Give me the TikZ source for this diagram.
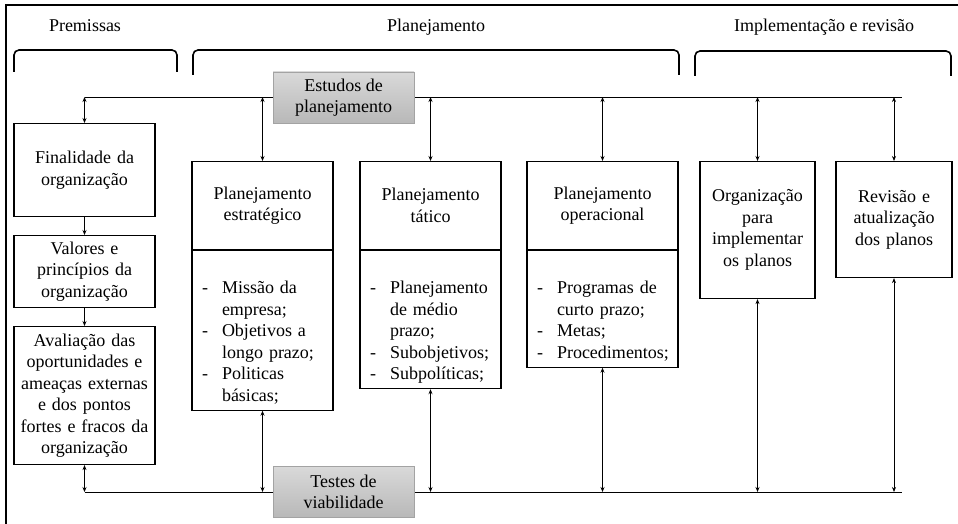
\documentclass[tikz,border=0pt]{standalone}
\usepackage{fontspec}
\setmainfont{Liberation Serif}
\usetikzlibrary{arrows.meta,positioning}
\definecolor{graytop}{HTML}{D9D9D9}
\definecolor{graybot}{HTML}{B8B8B8}
\definecolor{grayedge}{HTML}{A3A3A3}
\newcommand{\dashitem}{\makebox[20pt][l]{-}}
\newcommand{\dashcont}{\hspace*{20pt}}
\tikzset{
  basefont/.style={font=\fontsize{18}{21.5}\selectfont},
  stage/.style={draw,line width=1.1pt,basefont,align=center,inner xsep=2pt,inner ysep=0pt,anchor=north},
  stagebody/.style={
    draw,line width=1.1pt,basefont,align=left,anchor=north,inner xsep=10pt,inner ysep=0pt,
    execute at begin node={\rule{0pt}{43pt}},
    execute at end node={\rule[-9pt]{0pt}{9pt}}
  },
  graybox/.style={
    draw=grayedge,top color=graytop,bottom color=graybot,basefont,align=center,
    minimum width=141pt,minimum height=51pt,inner sep=0pt
  },
  bracket/.style={line width=1.6pt,rounded corners=5pt},
  header/.style={basefont,anchor=base},
  rail/.style={line width=0.9pt},
  link/.style={line width=0.8pt,{Stealth[length=5pt,width=4pt]}-{Stealth[length=5pt,width=4pt]}},
  flow/.style={line width=0.8pt,-{Stealth[length=5pt,width=4pt]}}
}

\begin{document}
\begin{tikzpicture}[x=1pt,y=-1pt]
  \useasboundingbox (0,0) rectangle (958,524);
  % frame (only top and left visible)
  \draw[line width=2.5pt] (6,524) -- (6,5) -- (958,5);

  % headers and brackets
  \node[header] (premissas) at (85,32) {Premissas};
  \node[header] (planejamento) at (436,32) {Planejamento};
  \node[header] (implementacao) at (824,32) {Implementação e revisão};
  \draw[bracket] (14,72) -- (14,50) -- (177,50) -- (177,72);
  \draw[bracket] (193,75) -- (193,50) -- (679,50) -- (679,75);
  \draw[bracket] (695,76) -- (695,51) -- (951,51) -- (951,76);

  % rails
  \coordinate (toprail-l) at (84.5,97);
  \coordinate (toprail-r) at (902,97);
  \coordinate (botrail-l) at (84.5,492);
  \coordinate (botrail-r) at (902,492);
  \draw[rail] (toprail-l) -- (toprail-r);
  \draw[rail] (botrail-l) -- (botrail-r);
  \node[graybox] (estudos) at (343.5,97.5) {Estudos de\\planejamento};
  \node[graybox] (testes) at (343.5,492) {Testes de\\viabilidade};

  % premissas column
  \node[stage,text width=137pt,minimum height=93pt] (finalidade) at (84.5,123) {Finalidade da\\organização};
  \node[stage,text width=137pt,minimum height=72pt] (valores) at (84.5,235) {Valores e\\princípios da\\organização};
  \node[stage,text width=137pt,minimum height=138pt] (avaliacao) at (84.5,326)
    {Avaliação das\\oportunidades e\\ameaças externas\\e dos pontos\\fortes e fracos da\\organização};
  \draw[link] (finalidade.north) -- (finalidade.north |- toprail-l);
  \draw[flow] (finalidade) -- (valores);
  \draw[flow] (valores) -- (avaliacao);
  \draw[link] (avaliacao.south) -- (avaliacao.south |- botrail-l);

  % planning columns
  \foreach \nm/\cx/\w/\ttl/\lst in {
    estrategico/262.5/141/{Planejamento\\estratégico}/{\dashitem Missão da\\\dashcont empresa;\\\dashitem Objetivos a\\\dashcont longo prazo;\\\dashitem Politicas\\\dashcont básicas;},
    tatico/430.5/141/{Planejamento\\tático}/{\dashitem Planejamento\\\dashcont de médio\\\dashcont prazo;\\\dashitem Subobjetivos;\\\dashitem Subpolíticas;},
    operacional/602.5/151/{Planejamento\\operacional}/{\dashitem Programas de\\\dashcont curto prazo;\\\dashitem Metas;\\\dashitem Procedimentos;}
  } {
    \pgfmathsetmacro{\headw}{\w-4}
    \pgfmathsetmacro{\bodyw}{\w-20}
    \node[stage,text width=\headw pt,minimum height=88pt] (\nm-head) at (\cx,161) {\ttl};
    \node[stagebody,text width=\bodyw pt] (\nm-body) at (\nm-head.south) {\lst};
    \draw[link] (\nm-head.north) -- (\nm-head.north |- toprail-l);
    \draw[link] (\nm-body.south) -- (\nm-body.south |- botrail-l);
  }

  % implementation columns
  \node[stage,text width=111pt,minimum height=137pt] (organizacao) at (757.5,161) {Organização\\para\\implementar\\os planos};
  \node[stage,text width=112pt,minimum height=116pt] (revisao) at (894,161) {Revisão e\\atualização\\dos planos};
  \foreach \nm in {organizacao,revisao} {
    \draw[link] (\nm.north) -- (\nm.north |- toprail-l);
    \draw[link] (\nm.south) -- (\nm.south |- botrail-l);
  }
\end{tikzpicture}
\end{document}
